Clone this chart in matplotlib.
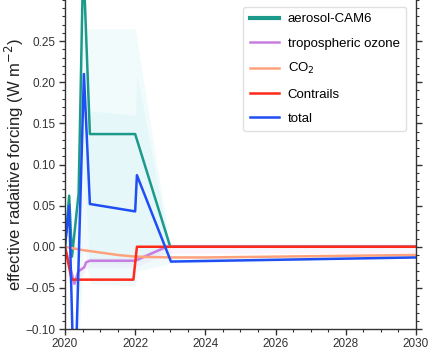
import matplotlib
matplotlib.use("Agg")
import matplotlib.pyplot as plt
from matplotlib.ticker import MultipleLocator
from matplotlib.lines import Line2D

plt.rcParams['font.family'] = ['Liberation Sans', 'DejaVu Sans']

# Effective radiative forcing components (W m-2) over time
aero_t = [2020.0, 2020.12, 2020.2, 2020.39, 2020.52, 2020.71, 2022.0, 2023.0, 2030.0]
aero_v = [0.0, 0.062, -0.012, 0.065, 0.35, 0.137, 0.137, 0.0, 0.0]
aero_lo = [0.0, 0.05, -0.03, 0.0, 0.10, -0.02, -0.02, 0.0, 0.0]
aero_hi = [0.0, 0.075, 0.005, 0.13, 0.265, 0.265, 0.265, 0.0, 0.0]

ozone_t = [2020.0, 2020.12, 2020.27, 2020.38, 2020.48, 2020.55, 2020.6, 2020.71, 2022.0, 2022.9, 2030.0]
ozone_v = [0.0, -0.02, -0.045, -0.03, -0.027, -0.025, -0.019, -0.017, -0.017, 0.0, 0.0]

co2_t = [2020.0, 2020.5, 2021.0, 2021.5, 2022.0, 2023.0, 2024.0, 2026.0, 2028.0, 2030.0]
co2_v = [0.0, -0.004, -0.007, -0.010, -0.012, -0.013, -0.013, -0.012, -0.011, -0.010]

contr_t = [2020.0, 2020.19, 2021.95, 2022.05, 2030.0]
contr_v = [0.0, -0.040, -0.040, 0.0, 0.0]

total_t = [2020.0, 2020.12, 2020.27, 2020.54, 2020.71, 2022.0, 2022.05, 2023.02, 2030.0]
total_v = [0.0, 0.05, -0.20, 0.21, 0.052, 0.043, 0.087, -0.018, -0.013]
total_lo = [0.0, 0.03, -0.21, 0.0, -0.045, -0.048, -0.03, -0.02, -0.014]
total_hi = [0.0, 0.07, -0.15, 0.165, 0.165, 0.16, 0.21, -0.01, -0.012]

labels = ["aerosol-CAM6", "tropospheric ozone", "CO$_2$", "Contrails", "total"]
colors = ["#1b9a8b", "#c77ddf", "#ffa27c", "#ff2a1a", "#1f4ef5"]

fig = plt.figure(figsize=(4.36, 3.54), dpi=100)
ax = fig.add_axes([0.149, 0.0706, 0.805, 0.9294])

# uncertainty bands
ax.fill_between(aero_t, aero_lo, aero_hi, color="#c8f2f2", alpha=0.25, lw=0)
ax.fill_between(total_t, total_lo, total_hi, color="#c4eef4", alpha=0.25, lw=0)
ax.fill_between(ozone_t, [v - 0.008 for v in ozone_v], [v + 0.004 for v in ozone_v],
                color=colors[1], alpha=0.08, lw=0)

lw = 1.8
ax.plot(aero_t, aero_v, color=colors[0], lw=lw)
ax.plot(ozone_t, ozone_v, color=colors[1], lw=lw)
ax.plot(co2_t, co2_v, color=colors[2], lw=lw)
ax.plot(contr_t, contr_v, color=colors[3], lw=lw)
ax.plot(total_t, total_v, color=colors[4], lw=lw)

ax.set_xlim(2020, 2030)
ax.set_ylim(-0.10, 0.30)
ax.xaxis.set_major_locator(MultipleLocator(2))
ax.xaxis.set_minor_locator(MultipleLocator(0.5))
ax.yaxis.set_minor_locator(MultipleLocator(0.01))
ax.set_yticks([-0.10, -0.05, 0.00, 0.05, 0.10, 0.15, 0.20, 0.25])
ax.set_yticklabels(["\u22120.10", "\u22120.05", "0.00", "0.05", "0.10", "0.15", "0.20", "0.25"])

ax.spines['top'].set_visible(False)
for s in ['left', 'right', 'bottom']:
    ax.spines[s].set_color('#333333')
    ax.spines[s].set_linewidth(1.0)
ax.tick_params(axis='both', which='major', direction='out', length=4, width=1,
               labelsize=8.5, colors='#333333', labelcolor='#333333', pad=2.5)
ax.tick_params(axis='both', which='minor', direction='out', length=2, width=0.8, colors='#333333')
ax.tick_params(axis='y', which='both', right=True, labelright=False)
ax.tick_params(axis='x', which='both', top=False)

ax.set_ylabel("effective radaitive forcing (W m$^{-2}$)", fontsize=12, color='#222222')
ax.yaxis.set_label_coords(-0.112, 0.5)

handles = [Line2D([], [], color=colors[0], lw=3.0)] + \
          [Line2D([], [], color=c, lw=1.8) for c in colors[1:]]
leg = ax.legend(handles, labels, loc='upper right', bbox_to_anchor=(0.973, 0.98),
                fontsize=9.5, labelspacing=0.9, handlelength=2.2, handletextpad=0.7,
                borderpad=0.5, borderaxespad=0.0, fancybox=True,
                framealpha=0.9, edgecolor='#dddddd')

fig.savefig("out.png", dpi=100)
